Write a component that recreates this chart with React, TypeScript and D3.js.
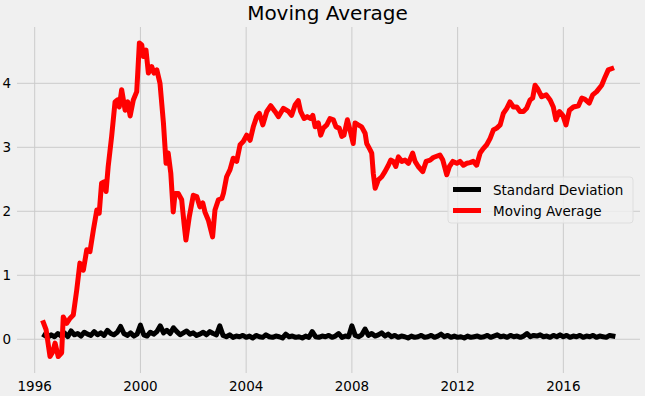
import React from 'react';
import * as d3 from 'd3';

// rolling mean (red), x in decimal years
const avgYears = [
  1996.33, 1996.43, 1996.58, 1996.68, 1996.77, 1996.89, 1997.02, 1997.08, 1997.21, 1997.34,
  1997.46, 1997.59, 1997.71, 1997.84, 1997.97, 1998.09, 1998.22, 1998.35, 1998.44, 1998.53,
  1998.62, 1998.70, 1998.78, 1998.91, 1999.04, 1999.13, 1999.20, 1999.29, 1999.42, 1999.52,
  1999.61, 1999.73, 1999.86, 1999.96, 2000.05, 2000.11, 2000.21, 2000.30, 2000.43, 2000.51,
  2000.62, 2000.74, 2000.87, 2000.97, 2001.05, 2001.15, 2001.24, 2001.31, 2001.43, 2001.56,
  2001.65, 2001.72, 2001.85, 2002.00, 2002.13, 2002.25, 2002.36, 2002.44, 2002.57, 2002.73,
  2002.82, 2002.95, 2003.08, 2003.14, 2003.26, 2003.39, 2003.51, 2003.64, 2003.77, 2003.89,
  2004.02, 2004.15, 2004.27, 2004.40, 2004.50, 2004.63, 2004.78, 2004.93, 2005.09, 2005.22,
  2005.41, 2005.60, 2005.72, 2005.85, 2005.97, 2006.06, 2006.19, 2006.31, 2006.44, 2006.52,
  2006.61, 2006.73, 2006.82, 2006.92, 2007.05, 2007.17, 2007.30, 2007.40, 2007.52, 2007.62,
  2007.70, 2007.83, 2007.93, 2008.05, 2008.12, 2008.24, 2008.37, 2008.50, 2008.56, 2008.69,
  2008.75, 2008.81, 2008.88, 2009.00, 2009.13, 2009.25, 2009.38, 2009.47, 2009.57, 2009.66,
  2009.76, 2009.89, 2010.01, 2010.14, 2010.30, 2010.39, 2010.51, 2010.68, 2010.81, 2010.96,
  2011.08, 2011.33, 2011.44, 2011.59, 2011.69, 2011.82, 2011.97, 2012.09, 2012.22, 2012.35,
  2012.47, 2012.59, 2012.72, 2012.85, 2012.97, 2013.10, 2013.23, 2013.35, 2013.48, 2013.61,
  2013.73, 2013.86, 2013.98, 2014.11, 2014.24, 2014.36, 2014.49, 2014.61, 2014.74, 2014.84,
  2014.93, 2015.02, 2015.18, 2015.35, 2015.50, 2015.62, 2015.72, 2015.85, 2015.98, 2016.10,
  2016.23, 2016.38, 2016.57, 2016.70, 2016.82, 2016.98, 2017.11, 2017.26, 2017.45, 2017.58,
  2017.70, 2017.83,
];
const avgValues = [
  0.26, 0.15, -0.27, -0.20, -0.06, -0.27, -0.21, 0.35, 0.25, 0.33,
  0.38, 0.77, 1.19, 1.08, 1.40, 1.37, 1.71, 2.02, 1.97, 2.44,
  2.46, 2.31, 2.70, 3.17, 3.71, 3.74, 3.63, 3.90, 3.58, 3.71,
  3.49, 3.74, 3.87, 4.63, 4.60, 4.42, 4.52, 4.16, 4.26, 4.16,
  4.21, 4.00, 3.38, 2.75, 2.91, 2.59, 1.99, 2.28, 2.28, 2.18,
  1.81, 1.55, 1.92, 2.25, 2.23, 2.07, 2.13, 1.99, 1.86, 1.60,
  2.02, 2.18, 2.20, 2.28, 2.54, 2.65, 2.83, 2.78, 3.04, 3.09,
  3.19, 3.11, 3.32, 3.48, 3.53, 3.35, 3.56, 3.65, 3.56, 3.48,
  3.61, 3.56, 3.50, 3.66, 3.73, 3.56, 3.45, 3.48, 3.45, 3.50,
  3.32, 3.38, 3.19, 3.30, 3.35, 3.45, 3.43, 3.32, 3.30, 3.17,
  3.19, 3.43, 3.27, 3.06, 3.38, 3.35, 3.32, 3.22, 3.06, 2.96,
  2.91, 2.59, 2.36, 2.49, 2.54, 2.62, 2.72, 2.80, 2.78, 2.70,
  2.85, 2.78, 2.80, 2.75, 2.91, 2.78, 2.70, 2.62, 2.78, 2.80,
  2.84, 2.88, 2.80, 2.57, 2.70, 2.78, 2.75, 2.78, 2.72, 2.75,
  2.76, 2.78, 2.72, 2.91, 2.98, 3.04, 3.14, 3.27, 3.30, 3.35,
  3.53, 3.61, 3.71, 3.63, 3.63, 3.56, 3.56, 3.61, 3.74, 3.77,
  3.97, 3.92, 3.79, 3.82, 3.74, 3.63, 3.43, 3.56, 3.50, 3.35,
  3.58, 3.63, 3.65, 3.77, 3.75, 3.69, 3.82, 3.87, 3.97, 4.10,
  4.21, 4.23,
];

// rolling std (black), one row per year, eighths of a year
const stdYears = [
  1996.375, 1996.5, 1996.625, 1996.75, 1996.875,
  1997.0, 1997.125, 1997.25, 1997.375, 1997.5, 1997.625, 1997.75, 1997.875,
  1998.0, 1998.125, 1998.25, 1998.375, 1998.5, 1998.625, 1998.75, 1998.875,
  1999.0, 1999.125, 1999.25, 1999.375, 1999.5, 1999.625, 1999.75, 1999.875,
  2000.0, 2000.125, 2000.25, 2000.375, 2000.5, 2000.625, 2000.75, 2000.875,
  2001.0, 2001.125, 2001.25, 2001.375, 2001.5, 2001.625, 2001.75, 2001.875,
  2002.0, 2002.125, 2002.25, 2002.375, 2002.5, 2002.625, 2002.75, 2002.875,
  2003.0, 2003.125, 2003.25, 2003.375, 2003.5, 2003.625, 2003.75, 2003.875,
  2004.0, 2004.125, 2004.25, 2004.375, 2004.5, 2004.625, 2004.75, 2004.875,
  2005.0, 2005.125, 2005.25, 2005.375, 2005.5, 2005.625, 2005.75, 2005.875,
  2006.0, 2006.125, 2006.25, 2006.375, 2006.5, 2006.625, 2006.75, 2006.875,
  2007.0, 2007.125, 2007.25, 2007.375, 2007.5, 2007.625, 2007.75, 2007.875,
  2008.0, 2008.125, 2008.25, 2008.375, 2008.5, 2008.625, 2008.75, 2008.875,
  2009.0, 2009.125, 2009.25, 2009.375, 2009.5, 2009.625, 2009.75, 2009.875,
  2010.0, 2010.125, 2010.25, 2010.375, 2010.5, 2010.625, 2010.75, 2010.875,
  2011.0, 2011.125, 2011.25, 2011.375, 2011.5, 2011.625, 2011.75, 2011.875,
  2012.0, 2012.125, 2012.25, 2012.375, 2012.5, 2012.625, 2012.75, 2012.875,
  2013.0, 2013.125, 2013.25, 2013.375, 2013.5, 2013.625, 2013.75, 2013.875,
  2014.0, 2014.125, 2014.25, 2014.375, 2014.5, 2014.625, 2014.75, 2014.875,
  2015.0, 2015.125, 2015.25, 2015.375, 2015.5, 2015.625, 2015.75, 2015.875,
  2016.0, 2016.125, 2016.25, 2016.375, 2016.5, 2016.625, 2016.75, 2016.875,
  2017.0, 2017.125, 2017.25, 2017.375, 2017.5, 2017.625, 2017.75, 2017.875,
];
const stdValues = [
  0.06, 0.03, 0.07, 0.04, 0.09,
  0.05, 0.10, 0.04, 0.13, 0.07, 0.09, 0.05, 0.11,
  0.08, 0.06, 0.12, 0.07, 0.10, 0.06, 0.14, 0.09,
  0.07, 0.11, 0.20, 0.09, 0.06, 0.10, 0.05, 0.08,
  0.22, 0.07, 0.05, 0.11, 0.08, 0.12, 0.21, 0.10,
  0.14, 0.09, 0.18, 0.12, 0.07, 0.10, 0.13, 0.08,
  0.10, 0.06, 0.08, 0.11, 0.07, 0.12, 0.09, 0.07,
  0.21, 0.06, 0.04, 0.07, 0.03, 0.05, 0.04, 0.06,
  0.03, 0.05, 0.02, 0.06, 0.04, 0.03, 0.07, 0.04,
  0.03, 0.05, 0.04, 0.02, 0.08, 0.04, 0.05, 0.03,
  0.04, 0.02, 0.05, 0.03, 0.12, 0.04, 0.03, 0.05,
  0.04, 0.06, 0.03, 0.05, 0.09, 0.03, 0.05, 0.04,
  0.21, 0.06, 0.04, 0.07, 0.16, 0.06, 0.09, 0.05,
  0.07, 0.10, 0.05, 0.08, 0.04, 0.06, 0.03, 0.05,
  0.04, 0.02, 0.05, 0.03, 0.04, 0.06, 0.03, 0.04,
  0.06, 0.03, 0.05, 0.08, 0.04, 0.06, 0.03, 0.05,
  0.03, 0.04, 0.02, 0.05, 0.03, 0.04, 0.05, 0.03,
  0.04, 0.06, 0.03, 0.05, 0.07, 0.04, 0.05, 0.03,
  0.06, 0.04, 0.05, 0.03, 0.05, 0.09, 0.04, 0.06,
  0.05, 0.07, 0.04, 0.05, 0.03, 0.06, 0.04, 0.07,
  0.04, 0.06, 0.03, 0.05, 0.04, 0.06, 0.03, 0.05,
  0.04, 0.06, 0.03, 0.05, 0.04, 0.03, 0.06, 0.05,
];

const xTicks = [1996, 2000, 2004, 2008, 2012, 2016];
const yTicks = [0, 1, 2, 3, 4];

const chartTitle = 'Moving Average';
const legendItems = [
  { label: 'Standard Deviation', color: '#000000' },
  { label: 'Moving Average', color: '#ff0000' },
];

const W = 645;
const H = 396;
const plot = { left: 17, right: 640, top: 27, bottom: 373 };
const FONT = 'DejaVu Sans, sans-serif';

export default function App() {
  const x = d3.scaleLinear().domain([1995.33, 2018.9]).range([plot.left, plot.right]);
  const y = d3.scaleLinear().domain([-0.527, 4.88]).range([plot.bottom, plot.top]);

  const line = d3.line<[number, number]>()
    .x(d => x(d[0]))
    .y(d => y(d[1]));

  const stdPath = line(stdYears.map((yr, i) => [yr, stdValues[i]] as [number, number]));
  const avgPath = line(avgYears.map((yr, i) => [yr, avgValues[i]] as [number, number]));

  return (
    <svg width={W} height={H} style={{ position: 'absolute', left: 0, top: 0, display: 'block' }}
      fontFamily={FONT}>
      <rect x={0} y={0} width={W} height={H} fill='#f0f0f0' />

      {/* grid */}
      {xTicks.map(t => (
        <line key={'gx' + t} x1={x(t)} x2={x(t)} y1={plot.top} y2={plot.bottom}
          stroke='#cbcbcb' strokeWidth={1} />
      ))}
      {yTicks.map(t => (
        <line key={'gy' + t} x1={plot.left} x2={plot.right} y1={y(t)} y2={y(t)}
          stroke='#cbcbcb' strokeWidth={1} />
      ))}

      {/* tick labels */}
      {xTicks.map(t => (
        <text key={'tx' + t} x={x(t)} y={391} textAnchor='middle' fontSize={13.5} fill='#000'>{t}</text>
      ))}
      {yTicks.map(t => (
        <text key={'ty' + t} x={11} y={y(t) + 4.8} textAnchor='end' fontSize={13.5} fill='#000'>{t}</text>
      ))}

      <path d={stdPath || ''} fill='none' stroke='#000000' strokeWidth={5} strokeLinejoin='round' strokeLinecap='square' />
      <path d={avgPath || ''} fill='none' stroke='#ff0000' strokeWidth={5} strokeLinejoin='round' strokeLinecap='square' />

      <text x={327.5} y={20} textAnchor='middle' fontSize={20} fill='#000'>{chartTitle}</text>

      {/* legend */}
      <g>
        <rect x={448} y={177} width={185} height={46} rx={3} fill='#f0f0f0' fillOpacity={0.8}
          stroke='#dedede' strokeWidth={1} />
        {legendItems.map((item, i) => (
          <g key={item.label} transform={`translate(0, ${i * 21})`}>
            <line x1={453} x2={481} y1={189.5} y2={189.5} stroke={item.color} strokeWidth={5} />
            <text x={493} y={195} fontSize={13.5} fill='#000'>{item.label}</text>
          </g>
        ))}
      </g>
    </svg>
  );
}
